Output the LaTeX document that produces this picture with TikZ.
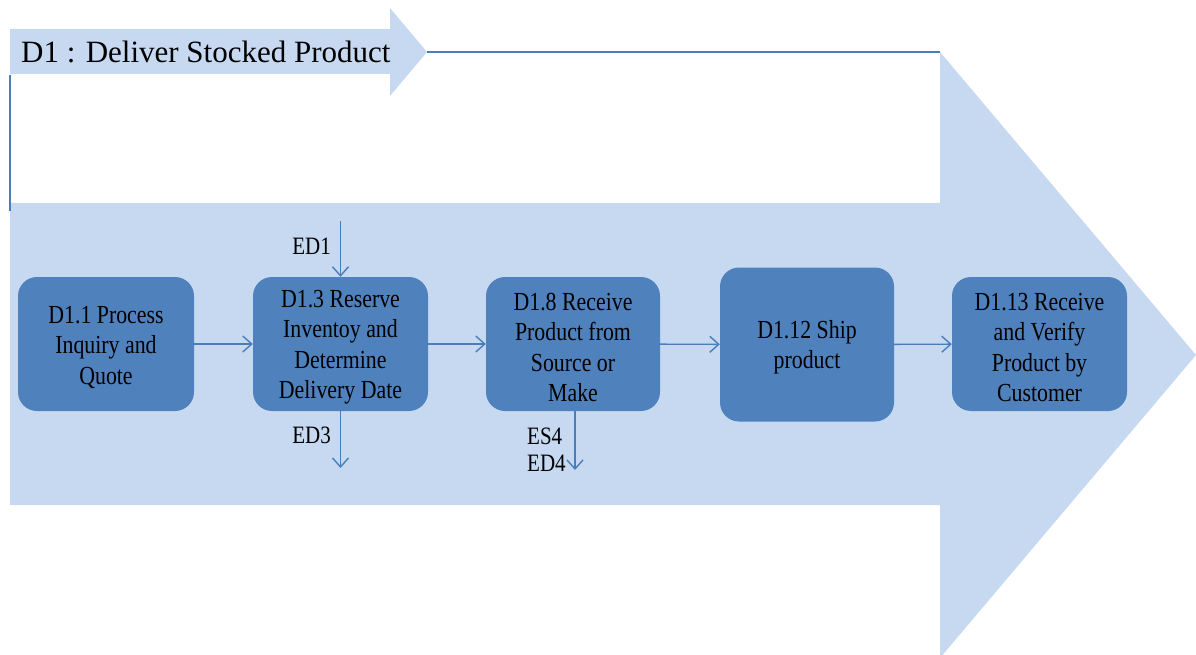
\documentclass[tikz,border=0pt]{standalone}
\usepackage{fontspec}
\setmainfont{Liberation Serif}
\newfontfamily\condfont[FakeStretch=0.84]{Liberation Serif}
\usetikzlibrary{arrows.meta}
\definecolor{bandfill}{HTML}{C6D9F1}
\definecolor{boxfill}{HTML}{4F81BD}
\definecolor{linkblue}{HTML}{4A7EBB}
% taller first line so the step text sits a little lower in its box
\newcommand\steplead{\rule{0pt}{24pt}}
\begin{document}
\begin{tikzpicture}[x=1pt,y=-1pt,
  procbox/.style={fill=boxfill, rounded corners=19pt, inner sep=0pt,
    align=center, text=black,
    font=\condfont\fontsize{26}{30.5}\selectfont},
  flow/.style={draw=linkblue, line width=1.4pt,
    -{Straight Barb[length=9pt,width=16pt,line width=1.4pt]}},
  edlabel/.style={inner sep=0pt, text=black,
    font=\condfont\fontsize{25}{27}\selectfont},
  frameline/.style={draw=linkblue}]
\useasboundingbox (0,0) rectangle (1196,655);

% large process band arrow
\fill[bandfill] (10,203) -- (940,203) -- (940,52) -- (1196,355)
  -- (940,658) -- (940,505) -- (10,505) -- cycle;

% title arrow
\fill[bandfill] (10,29) -- (390,29) -- (390,8) -- (427,52)
  -- (390,96) -- (390,74) -- (10,74) -- cycle;
\node[anchor=west, inner sep=0pt, text=black,
  font=\fontsize{31}{36}\selectfont] (title) at (21,52)
  {D1 : Deliver Stocked Product};

% bracket lines joining the title arrow to the band
\draw[frameline, line width=1.5pt] (10,75) -- (10,211);
\draw[frameline, line width=2.5pt] (427,52) -- (940,52);

% process steps
\node[procbox, minimum width=176pt, minimum height=134pt] (p11) at (106,344)
  {\steplead D1.1 Process\\Inquiry and\\Quote};
\node[procbox, minimum width=175pt, minimum height=134pt] (p13) at (340.5,344)
  {\steplead D1.3 Reserve\\Inventoy and\\Determine\\Delivery Date};
\node[procbox, minimum width=174pt, minimum height=134pt] (p18) at (573,344)
  {\steplead D1.8 Receive\\Product from\\Source or\\Make};
\node[procbox, minimum width=174pt, minimum height=154pt] (p112) at (807,344.5)
  {\steplead D1.12 Ship\\product};
\node[procbox, minimum width=175pt, minimum height=134pt] (p113) at (1039.5,344)
  {\steplead D1.13 Receive\\and Verify\\Product by\\Customer};

% flow between steps
\draw[flow] (p11) -- (p13);
\draw[flow] (p13) -- (p18);
\draw[flow] (p18) -- (p112);
\draw[flow] (p112) -- (p113);

% external inputs and outputs
\coordinate (ed1in) at (340.5,221);
\coordinate (ed3out) at (340.5,468);
\coordinate (es4out) at (575,470);
\draw[flow] (ed1in) -- (p13.north);
\draw[flow] (p13.south) -- (ed3out);
\draw[flow] ([xshift=2pt]p18.south) -- (es4out);
\node[edlabel, anchor=east] (ed1) at (331,246) {ED1};
\node[edlabel, anchor=east] (ed3) at (331,435) {ED3};
\node[edlabel, anchor=west, align=left] (es4) at (527,450) {ES4\\ED4};
\end{tikzpicture}
\end{document}
